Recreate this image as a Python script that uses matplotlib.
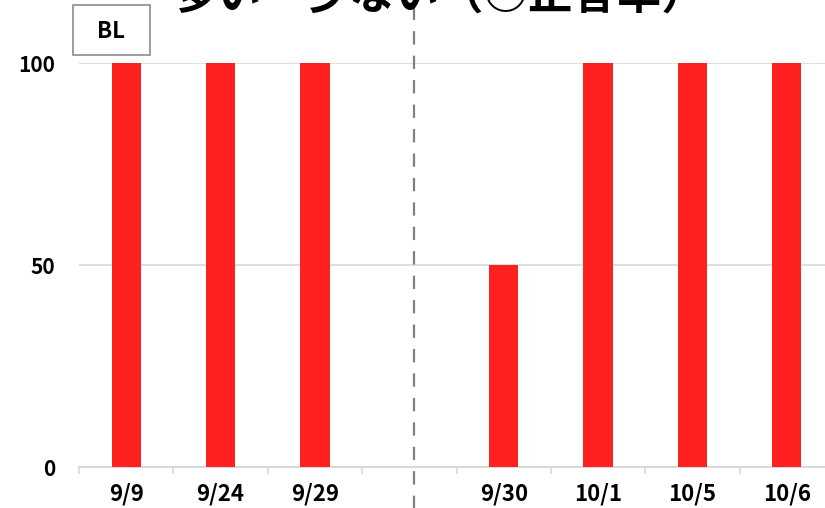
import numpy as np
import matplotlib
matplotlib.use("Agg")
import matplotlib.pyplot as plt
from matplotlib.patches import Rectangle

plt.rcParams['font.family'] = ['Noto Sans CJK JP', 'DejaVu Sans']

# sessions: baseline (left of the dashed line) and intervention (right)
dates = ["9/9", "9/24", "9/29", "", "9/30", "10/1", "10/5", "10/6"]
rates = [100, 100, 100, np.nan, 50, 100, 100, 100]
title = "多い・少ない（○正答率）"
phase_label = "BL"

bar_color = "#ff2020"
grid_color = "#d9d9d9"

fig = plt.figure(figsize=(8.25, 5.08), dpi=100)
ax = fig.add_axes([79 / 825, 1 - 467 / 508, 755 / 825, 404 / 508])

x = np.arange(len(dates))
ax.bar(x, rates, width=0.31, color=bar_color, zorder=3)

ax.set_xlim(-0.5, len(dates) - 0.5)
ax.set_ylim(0, 100)
ax.set_yticks([0, 50, 100])
ax.set_yticklabels(["0", "50", "100"], fontsize=15, fontweight="bold")
ax.yaxis.grid(True, color=grid_color, linewidth=1.2, zorder=0)
ax.tick_params(axis="y", length=0, pad=17)

# category ticks sit on the slot boundaries, labels in the middle
ax.set_xticks(np.arange(len(dates) + 1) - 0.5, minor=False)
ax.set_xticklabels([])
ax.set_xticks(x, minor=True)
ax.set_xticklabels(dates, minor=True, fontsize=16, fontweight="bold")
ax.tick_params(axis="x", which="major", length=5, color=grid_color, width=1.2)
ax.tick_params(axis="x", which="minor", length=0, pad=11)

for side in ["left", "right", "top"]:
    ax.spines[side].set_visible(False)
ax.spines["bottom"].set_color(grid_color)
ax.spines["bottom"].set_linewidth(1.5)

# phase change line
ax.plot([3.05, 3.05], [-12, 120], color="#808080", linewidth=1.6,
        linestyle=(0, (6, 5)), clip_on=False, zorder=4)

fig.patches.append(Rectangle((73 / 825, 1 - 55 / 508), 77 / 825, 50 / 508,
                             transform=fig.transFigure, facecolor="white",
                             edgecolor="#8c8c8c", linewidth=1.2))
fig.text(111 / 825, 1 - 31 / 508, phase_label, ha="center", va="center",
         fontsize=16, fontweight="bold")

fig.text(440 / 825, 1 - 9 / 508, title, ha="center", va="baseline",
         fontsize=32, fontweight="bold")

fig.savefig("out.png", dpi=100)
